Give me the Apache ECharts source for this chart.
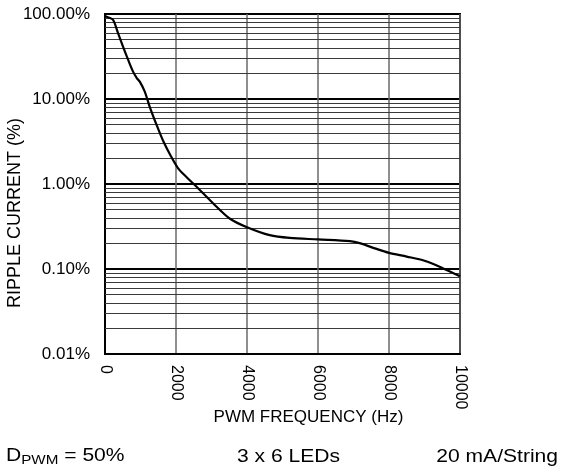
<!DOCTYPE html>
<html>
<head>
<meta charset="utf-8">
<script src="https://cdn.jsdelivr.net/npm/echarts@6/dist/echarts.min.js"></script>
<style>
  html, body { margin: 0; padding: 0; background: #fff; }
  #main { width: 561px; height: 472px; }
</style>
</head>
<body>
<div id="main"></div>
<script>
// PWM frequency (Hz) vs ripple current (%)
var freqHz = [0, 100, 230, 370, 510, 650, 790, 900, 980, 1120, 1260, 1450, 1640, 1850, 2060, 2300,
  2580, 3050, 3520, 4000, 4640, 5200, 6000, 6900, 7200, 7600, 8000, 8500, 9000, 9500, 10000];
var ripplePct = [95, 91, 85, 59, 41, 29, 21, 17.5, 16, 12.2, 8.1, 5.0, 3.2, 2.15, 1.53, 1.2,
  0.93, 0.59, 0.39, 0.31, 0.25, 0.232, 0.223, 0.213, 0.2, 0.175, 0.155, 0.14, 0.125, 0.103, 0.082];

// log grid lines between the decades
var minorGrid = [0.02, 0.03, 0.04, 0.05, 0.06, 0.07, 0.08, 0.09,
  0.2, 0.3, 0.4, 0.5, 0.6, 0.7, 0.8, 0.9,
  2, 3, 4, 5, 6, 7, 8, 9,
  20, 30, 40, 50, 60, 70, 80, 90];

var notes = ['D{sub|PWM} = 50%', '3 x 6 LEDs', '20 mA/String'];

var font = 'Liberation Sans, Arial, sans-serif';
var myChart = echarts.init(document.getElementById('main'));

var pts = freqHz.map(function (f, i) { return [f, ripplePct[i]]; });

myChart.setOption({
  animation: false,
  grid: {
    left: 105,
    right: 101,
    top: 14,
    bottom: 118,
    containLabel: false,
    outerBoundsMode: 'none',
    show: true,
    borderColor: '#000',
    borderWidth: 2
  },
  xAxis: {
    type: 'value',
    min: 0,
    max: 10000,
    interval: 2000,
    name: 'PWM FREQUENCY (Hz)',
    nameLocation: 'middle',
    nameGap: 55,
    nameMoveOverlap: false,
    nameTextStyle: {
      color: '#000',
      fontFamily: font,
      fontSize: 17,
      padding: [0, 0, 0, 52]
    },
    axisLine: { show: true, lineStyle: { color: '#000', width: 2 } },
    axisTick: { show: false },
    axisLabel: {
      rotate: -90,
      margin: 11,
      color: '#000',
      fontFamily: font,
      fontSize: 16,
      formatter: function (v) { return String(v); }
    },
    splitLine: {
      show: true,
      lineStyle: { color: '#6a6a6a', width: 1.5 }
    }
  },
  yAxis: {
    type: 'log',
    logBase: 10,
    min: 0.01,
    max: 100,
    name: 'RIPPLE CURRENT (%)',
    nameLocation: 'middle',
    nameRotate: 90,
    nameGap: 81,
    nameMoveOverlap: false,
    nameTextStyle: {
      color: '#000',
      fontFamily: font,
      fontSize: 18,
      padding: [0, 58, 0, 0]
    },
    axisLine: { show: true, lineStyle: { color: '#000', width: 2 } },
    axisTick: { show: false },
    axisLabel: {
      margin: 15,
      color: '#000',
      fontFamily: font,
      fontSize: 17,
      formatter: function (v) { return Number(v).toFixed(2) + '%'; }
    },
    splitLine: {
      show: true,
      lineStyle: { color: '#000', width: 2 }
    }
  },
  series: [
    {
      name: 'Ripple',
      type: 'line',
      data: pts,
      smooth: 0.3,
      showSymbol: false,
      lineStyle: { color: '#000', width: 2.2 },
      z: 5,
      markLine: {
        silent: true,
        symbol: ['none', 'none'],
        label: { show: false },
        lineStyle: { color: '#3a3a3a', type: 'solid', width: 1 },
        data: minorGrid.map(function (v) { return { yAxis: v }; }),
        z: 1
      }
    }
  ],
  graphic: [
    {
      type: 'text',
      left: 6,
      top: 447,
      scaleX: 1.17,
      style: {
        text: notes[0],
        font: '18px ' + font,
        fill: '#000',
        rich: {
          sub: { fontSize: 13, fontFamily: font, fill: '#000', padding: [9, 0, 0, 0] }
        }
      }
    },
    {
      type: 'text',
      left: 237,
      top: 448,
      scaleX: 1.17,
      style: { text: notes[1], font: '18px ' + font, fill: '#000' }
    },
    {
      type: 'text',
      right: 3,
      top: 448,
      scaleX: 1.17,
      style: { text: notes[2], font: '18px ' + font, fill: '#000' }
    }
  ]
});
</script>
</body>
</html>
